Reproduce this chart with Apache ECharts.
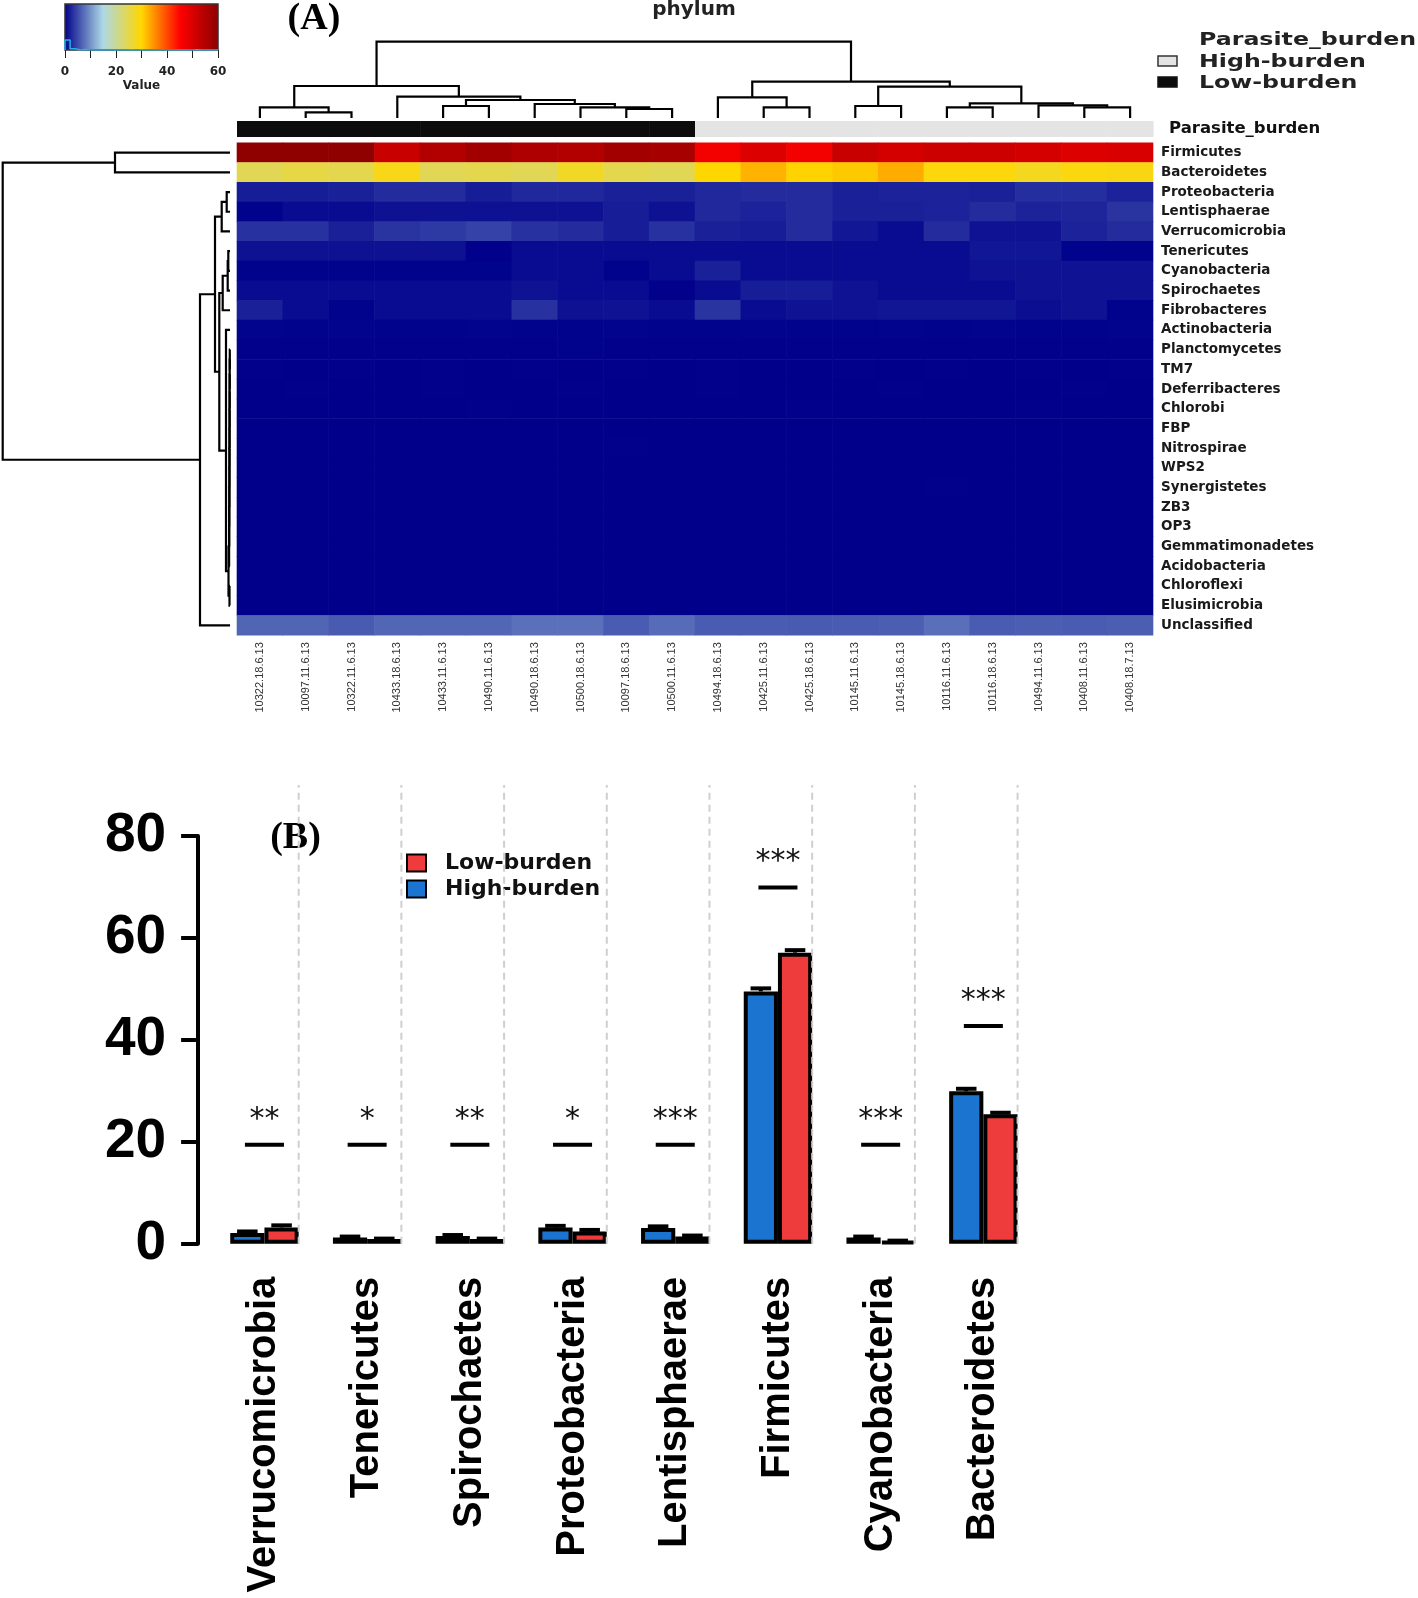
<!DOCTYPE html>
<html><head><meta charset="utf-8">
<script src="https://cdn.jsdelivr.net/npm/echarts@6/dist/echarts.min.js"></script>
<style>html,body{margin:0;padding:0;background:#fff}#chart{width:1418px;height:1598px}</style>
</head><body><div id="chart"></div>
<script>
// ---------- Panel A data ----------
const sampleIds = ['10322.18.6.13','10097.11.6.13','10322.11.6.13','10433.18.6.13','10433.11.6.13','10490.11.6.13','10490.18.6.13','10500.18.6.13','10097.18.6.13','10500.11.6.13','10494.18.6.13','10425.11.6.13','10425.18.6.13','10145.11.6.13','10145.18.6.13','10116.11.6.13','10116.18.6.13','10494.11.6.13','10408.11.6.13','10408.18.7.13'];
const sampleGroups = ['Low-burden','Low-burden','Low-burden','Low-burden','Low-burden','Low-burden','Low-burden','Low-burden','Low-burden','Low-burden','High-burden','High-burden','High-burden','High-burden','High-burden','High-burden','High-burden','High-burden','High-burden','High-burden'];
const phyla = ['Firmicutes','Bacteroidetes','Proteobacteria','Lentisphaerae','Verrucomicrobia','Tenericutes','Cyanobacteria','Spirochaetes','Fibrobacteres','Actinobacteria','Planctomycetes','TM7','Deferribacteres','Chlorobi','FBP','Nitrospirae','WPS2','Synergistetes','ZB3','OP3','Gemmatimonadetes','Acidobacteria','Chloroflexi','Elusimicrobia','Unclassified'];
const abundance = [
  [59.5,59.5,59.5,52,55,57,55.5,55,57,56.5, 46.5,49.5,46.5,52,50.5,51.5,51.5,50.5,49.5,50],
  [24.5,25.5,25,28.5,24.5,25,24.5,27.5,25,24.5, 30,32.5,30.3,31,33,29.3,29.3,28,29,28.8],
  [2,2,2.2,3,3,2,2.8,2.8,2.2,2.2, 2.8,3,3,2.2,2.4,2.4,2.2,3.2,3.2,2.4],
  [0.2,0.8,0.8,1.2,1.2,1.2,1.2,1.2,2,1.2, 2.8,2.4,3,2.2,2.2,2.4,3,2.4,2.6,3.6],
  [3.4,3.4,2.2,3.6,4,4.6,3.4,3,2,3.4, 2.2,2,3,1.6,0.8,3,1.3,1.3,2.4,3],
  [1.2,1.2,1.2,1.2,1.2,0.1,0.8,0.8,0.8,0.8, 0.8,0.8,0.8,0.8,0.8,0.8,1.5,1.5,0.2,0.2],
  [0.2,0.2,0.2,0.2,0.2,0.2,0.8,0.8,0.2,0.8, 2.2,0.8,0.8,0.8,0.8,0.8,1.3,1.3,1.3,1.3],
  [0.8,0.8,0.8,0.8,0.8,0.8,1.3,0.8,0.8,0.1, 0.8,2,2,1.3,0.8,0.8,0.8,1.3,1.3,1.3],
  [2.2,0.8,0.2,0.8,0.8,0.8,3.4,1.2,1.3,0.8, 3.6,0.8,1.3,1.3,1.5,1.5,1.5,1,1.3,0.2],
  [0.3,0.2,0.3,0.2,0.2,0.3,0.2,0.2,0.3,0.2, 0.2,0.3,0.2,0.2,0.3,0.2,0.3,0.2,0.2,0.3],
  [0.1,0.1,0.1,0.1,0.1,0.1,0.1,0.2,0.1,0.1, 0.1,0.1,0.1,0.1,0.1,0.1,0.1,0.1,0.1,0.1],
  [0.1,0,0.1,0,0.1,0,0.1,0,0.1,0, 0.1,0,0,0.1,0,0.1,0,0.1,0,0.1],
  [0,0.1,0,0,0.1,0,0,0.1,0,0, 0.1,0,0,0,0.1,0,0,0,0.1,0],
  [0,0,0,0,0,0.1,0,0,0,0, 0,0,0.1,0,0,0,0,0.1,0,0],
  [0,0,0,0,0,0,0,0,0,0, 0,0,0,0,0,0,0,0,0,0],
  [0,0,0,0,0,0,0,0,0.1,0, 0,0,0,0,0,0,0,0,0,0],
  [0,0,0,0,0,0,0,0,0,0, 0,0,0,0,0,0,0,0,0,0],
  [0,0,0,0,0,0,0,0,0,0, 0,0,0,0,0,0.1,0,0,0,0],
  [0,0,0,0,0,0,0,0,0,0, 0,0,0,0,0,0,0,0,0,0],
  [0,0,0,0,0,0,0,0,0,0, 0,0,0,0,0,0,0,0,0,0],
  [0,0,0,0,0,0,0,0,0,0, 0,0,0,0,0,0,0,0,0,0],
  [0,0,0,0,0,0,0,0,0,0, 0,0,0,0,0,0,0,0,0,0],
  [0,0,0,0,0,0,0,0,0,0, 0,0,0,0,0,0,0,0,0,0],
  [0,0,0,0,0,0,0,0,0,0, 0,0,0,0,0,0,0,0,0,0],
  [7,7,6.3,7.1,7.1,7.1,7.8,7.8,6.4,7.5, 6.4,6.4,6.3,6.4,6.5,7.7,6.4,6.5,6.4,6.5]
];
// hclust-style merges: negative = leaf (-(index+1)), positive = earlier merge (1-based), then height
const colDendroMerges = [
  [-2,-3,5.7],[-1,1,10.7],[-5,-6,12],[-9,-10,9],[-8,4,10.7],[-7,5,14],[3,6,18],[-4,7,21.3],[2,8,32],
  [-12,-13,10.7],[-11,10,20.7],[-14,-15,12],[-16,-17,10.7],[-19,-20,10.7],[-18,14,12.7],[13,15,14.7],[12,16,31.3],[11,17,36.3],[9,18,76.3]
];
const rowDendroMerges = [
  [-1,-2,115],[-3,-4,3.3],[-5,2,8.3],[-6,-7,1.7],[4,-8,2.3],[5,-9,7.3],
  [-11,-12,0.2],[7,-13,0.3],[8,-14,0.35],[9,-15,0.4],[10,-16,0.45],[11,-17,0.5],[12,-18,0.55],
  [13,-19,0.6],[14,-20,0.7],[15,-21,0.8],[16,-22,0.9],[-23,-24,0.5],[17,18,1.5],[-10,19,4],
  [6,20,10.7],[3,21,15],[22,-25,30],[1,23,227.3]
];
const keyColors = ['#00008B','#ADD8E6','#FFD700','#FF0000','#8B0000'];
const keyTicks = [0,20,40,60];
const groupColors = {'Low-burden':'#0c0c0c','High-burden':'#e4e4e4'};

// ---------- Panel B data ----------
const barCategories = ['Verrucomicrobia','Tenericutes','Spirochaetes','Proteobacteria','Lentisphaerae','Firmicutes','Cyanobacteria','Bacteroidetes'];
const highBurden = [2.1,1.2,1.5,3.2,3.1,49.5,1.2,29.9];
const lowBurden  = [3.2,0.9,0.9,2.4,1.4,57.1,0.5,25.4];
const highErr = [0.3,0.2,0.2,0.3,0.3,0.6,0.2,0.5];
const lowErr  = [0.4,0.1,0.1,0.3,0.2,0.5,0.1,0.3];
const sigLabels = ['**','*','**','*','***','***','***','***'];
const sigY = [19.4,19.4,19.4,19.4,19.4,69.9,19.4,42.7];
const yTicksB = [0,20,40,60,80];

// ---------- helpers ----------
function dendroSegments(merges){
  const pos=[], ht=[];
  return merges.map(([a,b,h],k)=>{
    const pa = a<0 ? -a-1 : pos[a-1], ha = a<0 ? 0 : ht[a-1];
    const pb = b<0 ? -b-1 : pos[b-1], hb = b<0 ? 0 : ht[b-1];
    pos[k]=(pa+pb)/2; ht[k]=h;
    return [pa,ha,pb,hb,h];
  });
}
const segTop = dendroSegments(colDendroMerges);
const segLeft = dendroSegments(rowDendroMerges);
const topMax = Math.max(...colDendroMerges.map(m=>m[2]));
const leftMax = Math.max(...rowDendroMerges.map(m=>m[2]));

const heatData = [];
abundance.forEach((row,r)=>row.forEach((v,c)=>heatData.push([c,r,v])));
// histogram of all cell values for the colour key (bins of 2)
const counts = new Array(30).fill(0);
abundance.flat().forEach(v=>{counts[Math.min(29,Math.floor(v/2))]++;});
const histPts = [[0,0]];
counts.forEach((c,i)=>{histPts.push([i*2,c]);histPts.push([i*2+2,c]);});
const histMax = Math.max(...counts)*4.6;

const SANS='"Liberation Sans", Arial, sans-serif';
const DJ='"DejaVu Sans", sans-serif';

const chart = echarts.init(document.getElementById('chart'), null, {renderer:'canvas'});
const gridBase = {containLabel:false, outerBoundsMode:'none'};
const option = {
  animation:false,
  backgroundColor:'#fff',
  grid:[
    Object.assign({left:237, top:142.85, width:916, height:492.3}, gridBase),   //0 heatmap
    Object.assign({left:237, top:41.7, width:916, height:76.3}, gridBase),      //1 top dendrogram
    Object.assign({left:2.7, top:142.85, width:227.3, height:492.3}, gridBase), //2 left dendrogram
    Object.assign({left:237, top:121, width:916, height:16}, gridBase),         //3 annotation bar
    Object.assign({left:65, top:4, width:153, height:46}, gridBase),            //4 colour key
    Object.assign({left:213.1, top:836, width:821.6, height:407.7}, gridBase)   //5 bar chart
  ],
  xAxis:[
    {gridIndex:0, type:'category', data:sampleIds, axisLine:{show:false}, axisTick:{show:false}, splitLine:{show:false},
      axisLabel:{rotate:90, margin:7, fontSize:11, fontFamily:SANS, color:'#333', interval:0}},
    {gridIndex:1, type:'value', min:-0.5, max:19.5, show:false},
    {gridIndex:2, type:'value', min:0, max:leftMax, inverse:true, show:false},
    {gridIndex:3, type:'category', data:sampleIds, show:false},
    {gridIndex:4, type:'value', min:0, max:60, interval:10, axisLine:{show:false}, splitLine:{show:false},
      axisTick:{show:true, length:8, lineStyle:{color:'#222', width:1}},
      axisLabel:{margin:16, fontSize:12, fontWeight:'bold', fontFamily:DJ, color:'#222',
        formatter:v=>keyTicks.includes(v)?String(v):''},
      name:'Value', nameLocation:'middle', nameGap:30, nameTextStyle:{fontSize:12, fontWeight:'bold', fontFamily:DJ, color:'#222'}},
    {gridIndex:5, type:'category', data:barCategories, axisLine:{show:false}, axisTick:{show:false}, splitLine:{show:false},
      axisLabel:{rotate:90, margin:33, fontSize:40, fontWeight:'bold', fontFamily:SANS, color:'#000', interval:0}}
  ],
  yAxis:[
    {gridIndex:0, type:'category', data:phyla, inverse:true, position:'right', axisLine:{show:false}, axisTick:{show:false}, splitLine:{show:false},
      axisLabel:{margin:8, fontSize:13.5, fontWeight:'bold', fontFamily:DJ, color:'#1a1a1a', interval:0}},
    {gridIndex:1, type:'value', min:0, max:topMax, show:false},
    {gridIndex:2, type:'value', min:-0.5, max:24.5, inverse:true, show:false},
    {gridIndex:3, type:'category', data:['Parasite_burden'], position:'right', axisLine:{show:false}, axisTick:{show:false},
      axisLabel:{margin:16, fontSize:16.5, fontWeight:'bold', fontFamily:DJ, color:'#111', padding:[4,0,0,0]}},
    {gridIndex:4, type:'value', min:0, max:histMax, show:false},
    {gridIndex:5, type:'value', min:0, max:80, interval:20, offset:15, splitLine:{show:false},
      axisLine:{show:true, lineStyle:{color:'#000', width:4}},
      axisTick:{show:true, length:17, lineStyle:{color:'#000', width:4}},
      axisLabel:{margin:32, fontSize:55, fontWeight:'bold', fontFamily:SANS, color:'#000',
        formatter:v=>yTicksB.includes(v)?String(v):''}}
  ],
  visualMap:{type:'continuous', min:0, max:60, seriesIndex:0, dimension:2, show:false, inRange:{color:keyColors}},
  legend:{data:['Low-burden','High-burden'], orient:'vertical', left:401, top:847, icon:'rect',
    itemWidth:19, itemHeight:17, itemGap:4, selectedMode:false,
    itemStyle:{borderColor:'#000', borderWidth:2},
    textStyle:{fontFamily:DJ, fontWeight:'bold', fontSize:22, color:'#111', lineHeight:22, padding:[0,0,0,14]}},
  graphic:[
    {type:'text', x:314, y:19, style:{text:'(A)', font:'bold 38px "Liberation Serif", serif', fill:'#000', align:'center', verticalAlign:'middle'}},
    {type:'text', x:295.5, y:838, style:{text:'(B)', font:'bold 38px "Liberation Serif", serif', fill:'#000', align:'center', verticalAlign:'middle'}},
    {type:'text', x:694, y:10, style:{text:'phylum', font:'bold 20px "DejaVu Sans", sans-serif', fill:'#222', align:'center', verticalAlign:'middle'}},
    {type:'text', x:1199, y:40, scaleX:1.28, style:{text:'Parasite_burden', font:'bold 18.5px "DejaVu Sans", sans-serif', fill:'#222', align:'left', verticalAlign:'middle'}},
    {type:'text', x:1199, y:62, scaleX:1.28, style:{text:'High-burden', font:'bold 18.5px "DejaVu Sans", sans-serif', fill:'#222', align:'left', verticalAlign:'middle'}},
    {type:'text', x:1199, y:83, scaleX:1.28, style:{text:'Low-burden', font:'bold 18.5px "DejaVu Sans", sans-serif', fill:'#222', align:'left', verticalAlign:'middle'}},
    {type:'rect', shape:{x:1158, y:56, width:19, height:10}, style:{fill:groupColors['High-burden'], stroke:'#333', lineWidth:1.5}},
    {type:'rect', shape:{x:1158, y:77, width:19, height:10}, style:{fill:groupColors['Low-burden'], stroke:'#111', lineWidth:1.5}}
  ],
  series:[
    {type:'custom', xAxisIndex:0, yAxisIndex:0, data:heatData, silent:true,
      renderItem:(p,api)=>{const c=api.coord([api.value(0),api.value(1)]); const s=api.size([1,1]);
        return {type:'rect', shape:{x:c[0]-s[0]/2-0.3, y:c[1]-s[1]/2-0.3, width:s[0]+0.6, height:s[1]+0.6},
          style:{fill:api.visual('color')}};}},
    {type:'custom', xAxisIndex:1, yAxisIndex:1, data:segTop, silent:true,
      renderItem:(p,api)=>{const [pa,ha,pb,hb,h]=segTop[p.dataIndex];
        return {type:'polyline', shape:{points:[api.coord([pa,ha]),api.coord([pa,h]),api.coord([pb,h]),api.coord([pb,hb])]},
          style:{stroke:'#000', lineWidth:2.2, fill:'none'}};}},
    {type:'custom', xAxisIndex:2, yAxisIndex:2, data:segLeft, silent:true,
      renderItem:(p,api)=>{const [pa,ha,pb,hb,h]=segLeft[p.dataIndex];
        return {type:'polyline', shape:{points:[api.coord([ha,pa]),api.coord([h,pa]),api.coord([h,pb]),api.coord([hb,pb])]},
          style:{stroke:'#000', lineWidth:2.2, fill:'none'}};}},
    {type:'custom', xAxisIndex:3, yAxisIndex:3, data:sampleGroups.map((g,i)=>[i,0]), silent:true,
      renderItem:(p,api)=>{const c=api.coord([p.dataIndex,0]); const s=api.size([1,1]);
        return {type:'rect', shape:{x:c[0]-s[0]/2, y:c[1]-s[1]/2, width:s[0]+0.6, height:s[1]},
          style:{fill:groupColors[sampleGroups[p.dataIndex]]}};}},
    {type:'custom', xAxisIndex:4, yAxisIndex:4, data:[[0,0]], silent:true, z:2,
      renderItem:(p,api)=>{const a=api.coord([0,0]), b=api.coord([60,histMax]);
        return {type:'rect', shape:{x:a[0], y:b[1], width:b[0]-a[0], height:a[1]-b[1]},
          style:{fill:{type:'linear', x:0, y:0, x2:1, y2:0,
            colorStops:keyColors.map((c,i)=>({offset:i/(keyColors.length-1), color:c}))}, stroke:'#333', lineWidth:1.5}};}},
    {type:'line', xAxisIndex:4, yAxisIndex:4, data:histPts, showSymbol:false, silent:true, z:5,
      lineStyle:{color:'#20b4e8', width:1.5}},
    {name:'High-burden', type:'bar', xAxisIndex:5, yAxisIndex:5, data:highBurden, barWidth:'33.3%', barGap:'0%',
      itemStyle:{color:'#1b75d0', borderColor:'#000', borderWidth:4}, silent:true},
    {name:'Low-burden', type:'bar', xAxisIndex:5, yAxisIndex:5, data:lowBurden, barWidth:'33.3%', barGap:'0%',
      itemStyle:{color:'#ee3b3b', borderColor:'#000', borderWidth:4}, silent:true},
    {type:'custom', xAxisIndex:5, yAxisIndex:5, data:barCategories.map((c,i)=>[i,0]), silent:true, z:4,
      renderItem:(p,api)=>{const i=p.dataIndex; const bw=api.size([1,0])[0]/3; const cx=api.coord([i,0])[0];
        const kids=[];
        [[cx-bw/2,highBurden[i],highErr[i]],[cx+bw/2,lowBurden[i],lowErr[i]]].forEach(([x,v,e])=>{
          const y0=api.coord([i,v])[1], y1=api.coord([i,v+e])[1];
          kids.push({type:'line', shape:{x1:x,y1:y0,x2:x,y2:y1}, style:{stroke:'#000', lineWidth:4}});
          kids.push({type:'line', shape:{x1:x-bw*0.3,y1:y1,x2:x+bw*0.3,y2:y1}, style:{stroke:'#000', lineWidth:4}});
        });
        return {type:'group', children:kids};}},
    {type:'custom', xAxisIndex:5, yAxisIndex:5, data:barCategories.map((c,i)=>[i,0]), silent:true, z:6,
      renderItem:(p,api)=>{const i=p.dataIndex; const bw=api.size([1,0])[0]/3; const c=api.coord([i,0]);
        const top=api.coord([i,90])[1];
        return {type:'line', shape:{x1:c[0]+bw, y1:c[1], x2:c[0]+bw, y2:top},
          style:{stroke:'#cfcfcf', lineWidth:2, lineDash:[7,5]}};}},
    {type:'custom', xAxisIndex:5, yAxisIndex:5, data:barCategories.map((c,i)=>[i,sigY[i]]), silent:true, z:7,
      renderItem:(p,api)=>{const i=p.dataIndex; const hw=api.size([1,0])[0]*0.19; const c=api.coord([i,sigY[i]]);
        return {type:'group', children:[
          {type:'line', shape:{x1:c[0]-hw,y1:c[1],x2:c[0]+hw,y2:c[1]}, style:{stroke:'#000', lineWidth:4}},
          {type:'text', x:c[0], y:c[1]-25, style:{text:sigLabels[i], font:'30px "DejaVu Sans", sans-serif', fill:'#111', align:'center', verticalAlign:'middle'}}
        ]};}}
  ]
};
chart.setOption(option);
</script>
</body></html>
